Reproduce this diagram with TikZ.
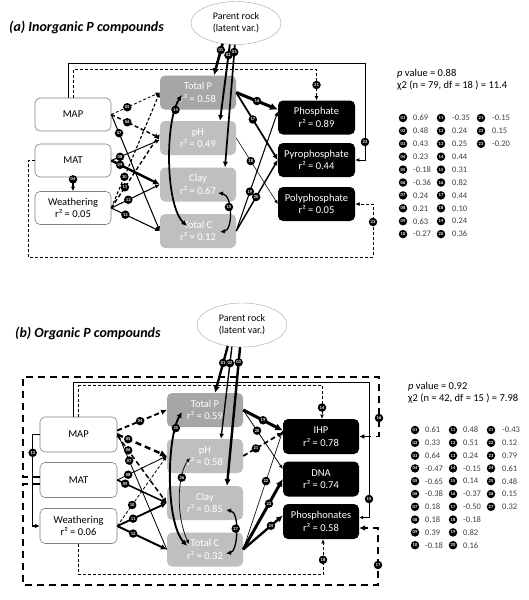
\documentclass[tikz,border=0pt]{standalone}
\usepackage{fontspec}
\setmainfont{Carlito}
\usetikzlibrary{arrows.meta,shapes.geometric}
\definecolor{tpf}{HTML}{A6A6A6}
\definecolor{bxf}{HTML}{BFBFBF}
\definecolor{bdr}{HTML}{7F7F7F}
\definecolor{valc}{HTML}{404040}
\tikzset{
  mytip/.tip={Latex[length=3pt 1.5,width=2.6pt 1.6]},
  boxfont/.style={font=\fontsize{10.5}{12.5}\selectfont},
  lbox/.style={boxfont, draw=bdr, line width=0.6pt, fill=white, rounded corners=5pt, minimum width=76pt, minimum height=33pt, align=center, inner sep=1pt},
  gbox/.style={boxfont, fill=bxf, text=white, rounded corners=5pt, minimum width=76pt, minimum height=34pt, align=center, inner sep=1pt},
  tbox/.style={gbox, fill=tpf},
  bbox/.style={boxfont, fill=black, text=white, rounded corners=5pt, minimum width=77pt, minimum height=34pt, align=center, inner sep=1pt},
  rock/.style={font=\fontsize{10}{12}\selectfont, ellipse, draw=gray!70, fill=white, minimum width=90pt, minimum height=43pt, align=center, inner sep=0pt},
  lab/.style={circle, fill=black, text=white, inner sep=0pt, minimum size=8.5pt, font=\fontsize{4.5}{4.5}\selectfont\bfseries},
  lgc/.style={circle, fill=black, text=white, inner sep=0pt, minimum size=8.5pt, font=\fontsize{4.5}{4.5}\selectfont\bfseries},
  lgt/.style={anchor=west, inner sep=0pt, text=valc, font=\fontsize{8.5}{10}\selectfont},
  hdr/.style={anchor=west, inner sep=0pt, font=\fontsize{10.5}{12}\selectfont},
  ttl/.style={anchor=west, inner sep=0pt, font=\fontsize{14}{17}\selectfont\bfseries\itshape},
  pedge/.style={line width={0.2pt+3.5pt*abs(#1)}, -mytip},
  nedge/.style={pedge=#1, dash pattern=on 3pt off 2pt},
  dedge/.style={line width={0.2pt+3.5pt*abs(#1)}, mytip-mytip},
}
\begin{document}
\begin{tikzpicture}[x=1pt,y=-1pt]
\fill[white] (0,0) rectangle (529,600);
\useasboundingbox (0,0) rectangle (529,600);

% ---------------- panel (a) ----------------
\node[ttl] (titA) at (9,27) {(a) Inorganic P compounds};
\node[rock] (rockA) at (236,23) {Parent rock\\(latent var.)};
\node[tbox] (tpA) at (198,92.5) {Total P\\r² = 0.58};
\node[gbox] (phA) at (198,138) {pH\\r² = 0.49};
\node[gbox] (clA) at (198,184.5) {Clay\\r² = 0.67};
\node[gbox] (tcA) at (198,231) {Total C\\r² = 0.12};
\node[lbox] (mapA) at (73,114.5) {MAP};
\node[lbox] (matA) at (73,160.5) {MAT};
\node[lbox] (weA) at (73,208) {Weathering\\r² = 0.05};
\node[bbox] (phoA) at (316.5,117.5) {Phosphate\\r² = 0.89};
\node[bbox] (pyrA) at (316.5,160) {Pyrophosphate\\r² = 0.44};
\node[bbox] (polA) at (316.5,204) {Polyphosphate\\r² = 0.05};

\coordinate (k22) at (365,63);
\coordinate (k23a) at (28,257);
\coordinate (k23b) at (373,257);

\draw[nedge=-0.15] (mapA.north) -- ++(0,-28) -| node[lab,pos=0.75] (l21a) {21} (phoA.north);
\draw[pedge=0.15] ([xshift=-5pt]mapA.north) |- (k22) |- (pyrA.east);
\node[lab] (l22a) at (365,142) {22};
\draw[nedge=-0.20] (matA.west) -| (k23a) -- (k23b) |- (polA.east);
\node[lab] (l23a) at (373,222) {23};

\draw[pedge=0.69] (rockA.-123) -- node[lab,pos=0.2] (l01a) {01} ([xshift=16pt]tpA.north);
\draw[pedge=0.48] (rockA.-106) -- node[lab,pos=0.14] (l02a) {02} ([xshift=22pt]phA.north);
\draw[pedge=0.43] (rockA.-93) -- node[lab,pos=0.06] (l03a) {03} ([xshift=27pt]clA.north);
\draw[pedge=0.23] (matA.south) -- node[lab,pos=0.15] (l04a) {04} (weA.north);
\draw[nedge=-0.18] (mapA.east) -- node[lab,pos=0.33] (l05a) {05} (tpA.west);
\draw[nedge=-0.36, dash pattern=on 4pt off 2.5pt] (mapA.east) -- node[lab,pos=0.33] (l06a) {06} (phA.west);
\draw[pedge=0.24] (mapA.east) -- node[lab,pos=0.16] (l07a) {07} (tcA.west);
\draw[pedge=0.21] (matA.east) -- node[lab,pos=0.18] (l08a) {08} ([yshift=-2pt]phA.west);
\draw[pedge=0.63] (matA.east) -- node[lab,pos=0.18] (l09a) {09} (clA.west);
\draw[nedge=-0.27] (weA.east) -- node[lab,pos=0.27] (l10a) {10} (tpA.west);
\draw[nedge=-0.35, dash pattern=on 4pt off 2.5pt] (weA.east) -- node[lab,pos=0.28] (l11a) {11} ([yshift=4pt]phA.west);
\draw[pedge=0.24] (weA.east) -- node[lab,pos=0.35] (l12a) {12} (clA.west);
\draw[pedge=0.25] (weA.east) -- node[lab,pos=0.29] (l13a) {13} (tcA.west);
\draw[dedge=0.44] ([xshift=-16pt,yshift=-2.5pt]tpA.center) .. controls +(-17,25) and +(-22,-21) .. ([xshift=-11pt,yshift=5pt]tcA.center) node[lab,pos=0.15] (l14a) {14};
\draw[dedge=0.31] ([xshift=20pt,yshift=-8.5pt]clA.center) .. controls +(15,2) and +(13,-2) .. ([xshift=22pt,yshift=-1pt]tcA.center) node[lab,pos=0.4] (l15a) {15};
\draw[pedge=0.82] (tpA.east) -- node[lab,pos=0.5] (l16a) {16} ([yshift=8pt]phoA.west);
\draw[pedge=0.44] (tpA.east) -- node[lab,pos=0.4] (l17a) {17} (pyrA.west);
\draw[pedge=0.10] (phA.east) -- node[lab,pos=0.35] (l18a) {18} (polA.west);
\draw[pedge=0.24] (tcA.east) -- node[lab,pos=0.33] (l19a) {19} ([yshift=6pt]phoA.west);
\draw[pedge=0.36] (tcA.east) -- node[lab,pos=0.48] (l20a) {20} (pyrA.west);

\node[hdr] (pvA) at (397,74) {\textit{p} value = 0.88};
\node[hdr] (chiA) at (397,86) {χ2 (n = 79, df = 18 ) = 11.4};
\foreach \n/\v [count=\i from 0] in {01/0.69,02/0.48,03/0.43,04/0.23,05/-0.18,06/-0.36,07/0.24,08/0.21,09/0.63,10/-0.27}
  {\node[lgc] (ga\n) at (403,{118+12.9*\i}) {\n}; \node[lgt] (gva\n) at (413,{118+12.9*\i}) {\v};}
\foreach \n/\v [count=\i from 0] in {11/-0.35,12/0.24,13/0.25,14/0.44,15/0.31,16/0.82,17/0.44,18/0.10,19/0.24,20/0.36}
  {\node[lgc] (ga\n) at (441,{118+12.9*\i}) {\n}; \node[lgt] (gva\n) at (452,{118+12.9*\i}) {\v};}
\foreach \n/\v [count=\i from 0] in {21/-0.15,22/0.15,23/-0.20}
  {\node[lgc] (ga\n) at (481,{118+12.9*\i}) {\n}; \node[lgt] (gva\n) at (492,{118+12.9*\i}) {\v};}

% ---------------- panel (b) ----------------
\node[ttl] (titB) at (15,333) {(b) Organic P compounds};
\node[rock, minimum height=44pt] (rockB) at (242,325) {Parent rock\\(latent var.)};
\node[tbox] (tpB) at (205,410) {Total P\\r² = 0.59};
\node[gbox] (phB) at (205,456) {pH\\r² = 0.58};
\node[gbox] (clB) at (205,503) {Clay\\r² = 0.85};
\node[gbox] (tcB) at (205,549.5) {Total C\\r² = 0.32};
\node[lbox, minimum width=77pt, minimum height=35pt] (mapB) at (78.5,434.5) {MAP};
\node[lbox, minimum width=77pt, minimum height=35pt] (matB) at (78.5,480) {MAT};
\node[lbox, minimum width=77pt, minimum height=35pt] (weB) at (78.5,526) {Weathering\\r² = 0.06};
\node[bbox, minimum width=76pt, minimum height=35pt] (ihpB) at (321,436.5) {IHP\\r² = 0.78};
\node[bbox, minimum width=76pt, minimum height=35pt] (dnaB) at (321,479) {DNA\\r² = 0.74};
\node[bbox, minimum width=76pt, minimum height=35pt] (phnB) at (321,521.5) {Phosphonates\\r² = 0.58};

\coordinate (k15) at (369,382);
\coordinate (k16a) at (23,377);
\coordinate (k16b) at (379,377);
\coordinate (k17a) at (23,585);
\coordinate (k17b) at (378,585);

\draw[nedge=-0.37, dash pattern=on 7pt off 5pt] ([yshift=3pt]matB.west) -| (k16a) -- (k16b) |- (ihpB.east);
\node[lab] (l16b) at (379,418) {16};
\draw[nedge=-0.50, dash pattern=on 7pt off 5pt] ([yshift=-4pt]matB.west) -| (k17a) -- (k17b) |- ([yshift=-6.5pt]phnB.east);
\node[lab] (l17b) at (378,565) {17};
\draw[pedge=0.14] ([xshift=-5.5pt]mapB.north) |- (k15) |- ([yshift=4pt]phnB.east);
\node[lab] (l15b) at (369,499) {15};
\draw[nedge=-0.15] (mapB.north) -- ++(0,-31) -| node[lab,pos=0.83] (l14b) {14} ([xshift=1pt]ihpB.north);
\draw[nedge=-0.18] (weB.south) -- ++(0,31) -| node[lab,pos=0.71] (l18b) {18} ([xshift=2pt]phnB.south);
\draw[pedge=0.24] (mapB.west) -- ++(-7,0) |- node[lab,pos=0.1] (l13b) {13} (weB.west);

\draw[pedge=0.61] (rockB.-124) -- node[lab,pos=0.36] (l01b) {01} ([xshift=10pt]tpB.north);
\draw[pedge=0.33] (rockB.-115) -- node[lab,pos=0.18] (l02b) {02} ([xshift=16pt]phB.north);
\draw[pedge=0.64] (rockB.-95) -- node[lab,pos=0.11] (l03b) {03} ([xshift=22pt]clB.north);
\draw[nedge=-0.47, dash pattern=on 5pt off 3pt] ([yshift=4pt]mapB.east) -- node[lab,pos=0.46] (l04b) {04} (tpB.west);
\draw[nedge=-0.65, dash pattern=on 6pt off 4pt] (mapB.east) -- node[lab,pos=0.22] (l05b) {05} (phB.west);
\draw[nedge=-0.38, dash pattern=on 5pt off 3pt] ([yshift=-1pt]mapB.east) -- node[lab,pos=0.22] (l06b) {06} (clB.west);
\draw[pedge=0.18] (tcB.west) -- node[lab,pos=0.76] (l07b) {07} ([yshift=2pt]mapB.east);
\draw[pedge=0.18] (matB.east) -- node[lab,pos=0.22] (l08b) {08} (phB.west);
\draw[pedge=0.39] (matB.east) -- node[lab,pos=0.16] (l09b) {09} (clB.west);
\draw[nedge=-0.18] (weB.east) -- node[lab,pos=0.3] (l10b) {10} (phB.west);
\draw[pedge=0.48] (weB.east) -- node[lab,pos=0.32] (l11b) {11} (clB.west);
\draw[pedge=0.51] (weB.east) -- node[lab,pos=0.32] (l12b) {12} (tcB.west);
\draw[pedge=0.82] (tpB.east) -- node[lab,pos=0.5] (l19b) {19} ([yshift=6pt]ihpB.west);
\draw[pedge=0.16] (tpB.east) -- node[lab,pos=0.35] (l20b) {20} ([yshift=10pt]dnaB.west);
\draw[nedge=-0.43, dash pattern=on 5pt off 3pt] (phB.east) -- node[lab,pos=0.32] (l21b) {21} ([yshift=4pt]ihpB.west);
\draw[pedge=0.12] (tcB.east) -- node[lab,pos=0.575] (l22b) {22} ([yshift=6pt]ihpB.west);
\draw[pedge=0.79] (tcB.east) -- node[lab,pos=0.65] (l23b) {23} (dnaB.west);
\draw[pedge=0.61] (tcB.east) -- node[lab,pos=0.7] (l24b) {24} ([yshift=6pt]phnB.west);
\draw[dedge=0.48] ([xshift=-23pt,yshift=-2pt]tpB.center) .. controls +(-15,25) and +(-22,-25) .. ([xshift=-18pt,yshift=3.5pt]tcB.center) node[lab,pos=0.16] (l25b) {25};
\draw[dedge=0.15] ([xshift=-15pt,yshift=-2pt]phB.center) .. controls +(-12,15) and +(-14,-30) .. ([xshift=-16pt,yshift=5.5pt]tcB.center) node[lab,pos=0.3] (l26b) {26};
\draw[dedge=0.32] ([xshift=21pt,yshift=-7pt]clB.center) .. controls +(14,2) and +(12,-2) .. ([xshift=21pt,yshift=-4pt]tcB.center) node[lab,pos=0.45] (l27b) {27};

\node[hdr] (pvB) at (408,387) {\textit{p} value = 0.92};
\node[hdr] (chiB) at (408,399) {χ2 (n = 42, df = 15 ) = 7.98};
\foreach \n/\v [count=\i from 0] in {01/0.61,02/0.33,03/0.64,04/-0.47,05/-0.65,06/-0.38,07/0.18,08/0.18,09/0.39,10/-0.18}
  {\node[lgc] (gb\n) at (415,{430+12.8*\i}) {\n}; \node[lgt] (gvb\n) at (425,{430+12.8*\i}) {\v};}
\foreach \n/\v [count=\i from 0] in {11/0.48,12/0.51,13/0.24,14/-0.15,15/0.14,16/-0.37,17/-0.50,18/-0.18,19/0.82,20/0.16}
  {\node[lgc] (gb\n) at (453,{430+12.8*\i}) {\n}; \node[lgt] (gvb\n) at (463,{430+12.8*\i}) {\v};}
\foreach \n/\v [count=\i from 0] in {21/-0.43,22/0.12,23/0.79,24/0.61,25/0.48,26/0.15,27/0.32}
  {\node[lgc] (gb\n) at (491,{430+12.8*\i}) {\n}; \node[lgt] (gvb\n) at (502,{430+12.8*\i}) {\v};}
\end{tikzpicture}
\end{document}
